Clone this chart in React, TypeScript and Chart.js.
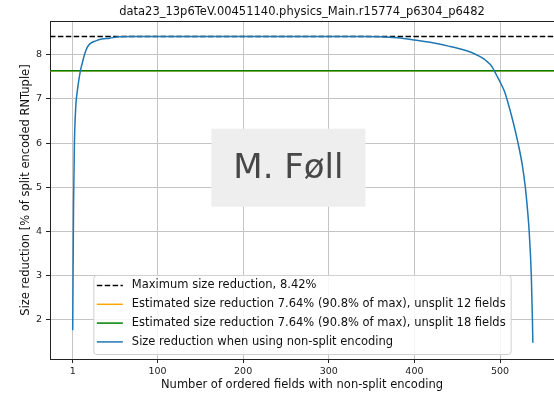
import React, { useEffect, useRef } from "react";
import { Chart, registerables } from "chart.js";

Chart.register(...registerables);

const titleText = "data23_13p6TeV.00451140.physics_Main.r15774_p6304_p6482";
const xLabelText = "Number of ordered fields with non-split encoding";
const yLabelText = "Size reduction [% of split encoded RNTuple]";
const watermarkText = "M. Føll";

const xTickValues = [1, 100, 200, 300, 400, 500];
const yTickValues = [2, 3, 4, 5, 6, 7, 8];

const xRange = [-25.5, 563];
const yRange = [1.1, 8.77];

const maxReduction = 8.42;
const estReduction12 = 7.64;
const estReduction18 = 7.64;

const curveX = [
  1, 2, 3, 4, 5, 6, 8, 10, 12, 15, 18, 21, 28, 35, 44, 55, 70, 100, 150, 200,
  250, 300, 340, 360, 380, 400, 420, 440, 455, 466, 475, 481, 486, 490, 493,
  497, 501, 505, 508, 515, 521, 526, 529.5, 532, 534, 536.5, 537.8, 538.3,
];
const curveY = [
  1.75, 4.6, 6.0, 6.6, 6.95, 7.12, 7.41, 7.64, 7.8, 8.02, 8.17, 8.25, 8.32,
  8.36, 8.38, 8.41, 8.42, 8.42, 8.42, 8.42, 8.42, 8.42, 8.42, 8.415, 8.39,
  8.34, 8.28, 8.2, 8.13, 8.06, 7.98, 7.91, 7.83, 7.75, 7.65, 7.5, 7.35, 7.18,
  7.0, 6.5, 6.0, 5.5, 5.0, 4.5, 4.0, 3.0, 2.0, 1.47,
];

const legendLabels = [
  "Maximum size reduction, 8.42%",
  "Estimated size reduction 7.64% (90.8% of max), unsplit 12 fields",
  "Estimated size reduction 7.64% (90.8% of max), unsplit 18 fields",
  "Size reduction when using non-split encoding",
];
const legendColors = ["#000000", "#ffa500", "#008000", "#1f77b4"];
const legendDashed = [true, false, false, false];

const FONT = "'DejaVu Sans', sans-serif";

const decorPlugin = {
  id: "decor",
  afterDraw(chart: any) {
    const { ctx, chartArea } = chart;
    const { left, right, top, bottom } = chartArea;
    const w = right - left;
    const h = bottom - top;
    ctx.save();

    // top spine
    ctx.strokeStyle = "#222222";
    ctx.lineWidth = 1;
    ctx.beginPath();
    ctx.moveTo(left, top + 0.5);
    ctx.lineTo(right, top + 0.5);
    ctx.stroke();

    // title
    ctx.fillStyle = "#111111";
    ctx.font = `11.5px ${FONT}`;
    ctx.textAlign = "center";
    ctx.textBaseline = "middle";
    ctx.fillText(titleText, (left + right) / 2, 12);

    // axis labels
    ctx.fillText(xLabelText, (left + right) / 2, 385);
    ctx.save();
    ctx.translate(26, (top + bottom) / 2);
    ctx.rotate(-Math.PI / 2);
    ctx.fillText(yLabelText, 0, 0);
    ctx.restore();

    // watermark
    const cx = left + 0.473 * w;
    const cy = top + 0.434 * h;
    ctx.fillStyle = "#eeeeee";
    ctx.fillRect(cx - 77, cy - 39, 154, 78);
    ctx.fillStyle = "#474747";
    ctx.font = `34px ${FONT}`;
    ctx.fillText(watermarkText, cx, cy + 1);

    // legend
    ctx.font = `11.5px ${FONT}`;
    let maxW = 0;
    legendLabels.forEach((l) => {
      maxW = Math.max(maxW, ctx.measureText(l).width);
    });
    const boxW = 38.5 + maxW + 5;
    const rowH = 18.8;
    const boxH = 79;
    const bx = (left + right) / 2 - boxW / 2;
    const by = bottom - 5 - boxH;
    ctx.fillStyle = "rgba(255,255,255,0.85)";
    ctx.strokeStyle = "#d0d0d0";
    ctx.lineWidth = 1;
    ctx.beginPath();
    (ctx as any).roundRect(bx + 0.5, by + 0.5, boxW, boxH, 3);
    ctx.fill();
    ctx.stroke();
    ctx.textAlign = "left";
    legendLabels.forEach((l, i) => {
      const ry = by + 10.5 + i * rowH;
      ctx.strokeStyle = legendColors[i];
      ctx.lineWidth = 1.5;
      ctx.setLineDash(legendDashed[i] ? [5.5, 2.4] : []);
      ctx.beginPath();
      ctx.moveTo(bx + 3.5, ry);
      ctx.lineTo(bx + 29.5, ry);
      ctx.stroke();
      ctx.setLineDash([]);
      ctx.fillStyle = "#111111";
      ctx.fillText(l, bx + 38.5, ry);
    });
    ctx.restore();
  },
};

export default function App() {
  const canvasRef = useRef<HTMLCanvasElement | null>(null);

  useEffect(() => {
    const canvas = canvasRef.current;
    if (!canvas) return;
    const hline = (y: number) => [
      { x: xRange[0], y },
      { x: xRange[1], y },
    ];
    const chart = new Chart(canvas, {
      type: "line",
      data: {
        datasets: [
          {
            label: legendLabels[0],
            data: hline(maxReduction),
            borderColor: "#000000",
            borderWidth: 1.5,
            borderDash: [5.5, 2.4],
            pointRadius: 0,
            clip: 0,
            order: 3,
          },
          {
            label: legendLabels[1],
            data: hline(estReduction12),
            borderColor: "#ffa500",
            borderWidth: 1.5,
            pointRadius: 0,
            clip: 0,
            order: 2,
          },
          {
            label: legendLabels[2],
            data: hline(estReduction18),
            borderColor: "#008000",
            borderWidth: 1.5,
            pointRadius: 0,
            clip: 0,
            order: 1,
          },
          {
            label: legendLabels[3],
            data: curveX.map((x, i) => ({ x, y: curveY[i] })),
            borderColor: "#1f77b4",
            borderWidth: 1.5,
            pointRadius: 0,
            cubicInterpolationMode: "monotone",
            clip: 0,
            order: 0,
          },
        ] as any,
      },
      options: {
        animation: false,
        responsive: false,
        devicePixelRatio: 1,
        layout: { padding: { top: 21, left: 0, right: 0, bottom: 0 } },
        plugins: {
          legend: { display: false },
          tooltip: { enabled: false },
          title: { display: false },
        },
        scales: {
          x: {
            type: "linear",
            min: xRange[0],
            max: xRange[1],
            afterBuildTicks: (scale: any) => {
              scale.ticks = xTickValues.map((v) => ({ value: v }));
            },
            afterFit: (scale: any) => {
              scale.height = 35;
            },
            grid: {
              color: "#c4c4c4",
              lineWidth: 1,
              tickLength: 4,
              tickColor: "#222222",
            },
            border: { display: true, color: "#222222", width: 1 },
            ticks: {
              color: "#222222",
              font: { family: FONT, size: 9.5 },
              padding: 3,
              maxRotation: 0,
              callback: (v: any) => String(v),
            },
          },
          y: {
            type: "linear",
            min: yRange[0],
            max: yRange[1],
            afterBuildTicks: (scale: any) => {
              scale.ticks = yTickValues.map((v) => ({ value: v }));
            },
            afterFit: (scale: any) => {
              scale.width = 50;
            },
            grid: {
              color: "#c4c4c4",
              lineWidth: 1,
              tickLength: 4,
              tickColor: "#222222",
            },
            border: { display: true, color: "#222222", width: 1 },
            ticks: {
              color: "#222222",
              font: { family: FONT, size: 9.5 },
              padding: 4,
              callback: (v: any) => String(v),
            },
          },
        },
      } as any,
      plugins: [decorPlugin],
    });
    return () => chart.destroy();
  }, []);

  return (
    <div
      style={{
        position: "fixed",
        left: 0,
        top: 0,
        width: 554,
        height: 394,
        background: "#ffffff",
      }}
    >
      <canvas ref={canvasRef} width={554} height={394} />
    </div>
  );
}
